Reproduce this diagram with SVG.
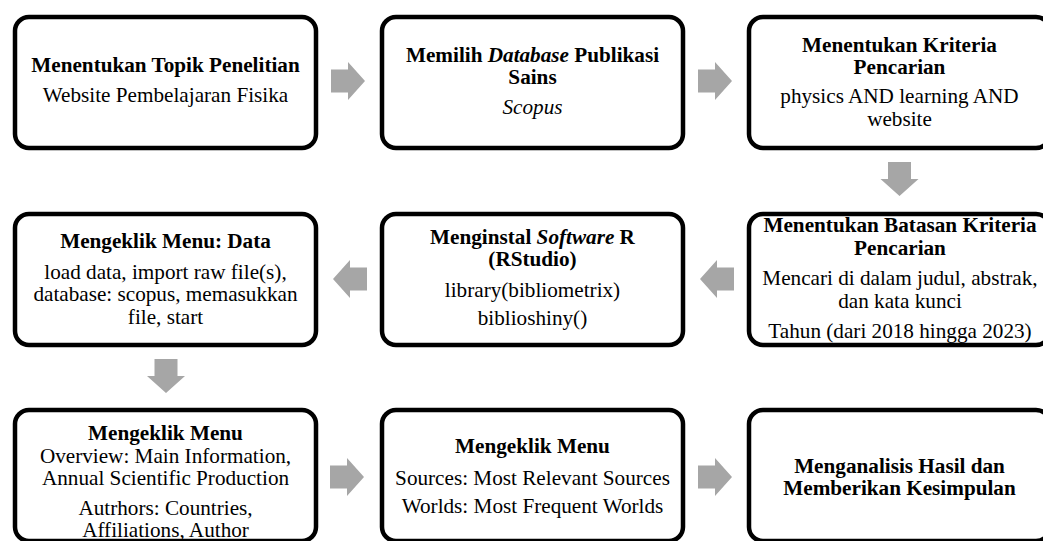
<svg xmlns="http://www.w3.org/2000/svg" width="1043" height="541" viewBox="0 0 1043 541">
<style>
.box{fill:#fff;stroke:#000;stroke-width:4.5}
.arr{fill:#a6a6a6}
text{font-family:"Liberation Serif","Times New Roman",serif;font-size:21.2px;fill:#000;text-anchor:middle}
.b{font-weight:bold}
.i{font-style:italic}
</style>
<rect width="1043" height="541" fill="#fff"/>
<g id="connectors">
<polygon class="arr" points="331,69.5 348,69.5 348,62 365,81 348,100 348,92.5 331,92.5"/>
<polygon class="arr" points="698,69.5 715,69.5 715,62 732,81 715,100 715,92.5 698,92.5"/>
<polygon class="arr" points="888,162 911,162 911,179 918.5,179 899.5,196 880.5,179 888,179"/>
<polygon class="arr" points="734,267.5 717,267.5 717,260 700,279 717,298 717,290.5 734,290.5"/>
<polygon class="arr" points="367,267.5 350,267.5 350,260 333,279 350,298 350,290.5 367,290.5"/>
<polygon class="arr" points="154.5,359 177.5,359 177.5,376 185,376 166,393 147,376 154.5,376"/>
<polygon class="arr" points="330,465.5 347,465.5 347,458 364,477 347,496 347,488.5 330,488.5"/>
<polygon class="arr" points="698,465.5 715,465.5 715,458 732,477 715,496 715,488.5 698,488.5"/>
</g>
<g id="n1">
<rect class="box" x="15" y="17" width="301" height="131" rx="14"/>
<text x="165.5" y="72" class="b">Menentukan Topik Penelitian</text>
<text x="165.5" y="102">Website Pembelajaran Fisika</text>
</g>
<g id="n2">
<rect class="box" x="382" y="17" width="301" height="131" rx="14"/>
<text x="532.5" y="62" class="b">Memilih <tspan class="i">Database</tspan> Publikasi</text>
<text x="532.5" y="84" class="b">Sains</text>
<text x="532.5" y="114" class="i">Scopus</text>
</g>
<g id="n3">
<rect class="box" x="749" y="17" width="301" height="131" rx="14"/>
<text x="899.5" y="51.5" class="b">Menentukan Kriteria</text>
<text x="899.5" y="74" class="b">Pencarian</text>
<text x="899.5" y="103">physics AND learning AND</text>
<text x="899.5" y="125.5">website</text>
</g>
<g id="n4">
<rect class="box" x="749" y="214" width="301" height="131" rx="14"/>
<text x="900" y="231.5" class="b">Menentukan Batasan Kriteria</text>
<text x="900" y="254.5" class="b">Pencarian</text>
<text x="900" y="285">Mencari di dalam judul, abstrak,</text>
<text x="900" y="307.5">dan kata kunci</text>
<text x="900" y="338">Tahun (dari 2018 hingga 2023)</text>
</g>
<g id="n5">
<rect class="box" x="382" y="214" width="301" height="131" rx="14"/>
<text x="532.5" y="244" class="b">Menginstal <tspan class="i">Software</tspan> R</text>
<text x="532.5" y="265.5" class="b">(RStudio)</text>
<text x="532.5" y="297">library(bibliometrix)</text>
<text x="532.5" y="325">biblioshiny()</text>
</g>
<g id="n6">
<rect class="box" x="15" y="214" width="301" height="131" rx="14"/>
<text x="165.5" y="248" class="b">Mengeklik Menu: Data</text>
<text x="165.5" y="279">load data, import raw file(s),</text>
<text x="165.5" y="301">database: scopus, memasukkan</text>
<text x="165.5" y="323.5">file, start</text>
</g>
<g id="n7">
<rect class="box" x="15" y="410" width="301" height="131" rx="14"/>
<text x="165.5" y="439.5" class="b">Mengeklik Menu</text>
<text x="165.5" y="463">Overview: Main Information,</text>
<text x="165.5" y="485">Annual Scientific Production</text>
<text x="165.5" y="515">Autrhors: Countries,</text>
<text x="165.5" y="537">Affiliations, Author</text>
</g>
<g id="n8">
<rect class="box" x="382" y="410" width="301" height="131" rx="14"/>
<text x="532.5" y="453" class="b">Mengeklik Menu</text>
<text x="532.5" y="485">Sources: Most Relevant Sources</text>
<text x="532.5" y="512.5">Worlds: Most Frequent Worlds</text>
</g>
<g id="n9">
<rect class="box" x="749" y="410" width="301" height="131" rx="14"/>
<text x="899.5" y="473" class="b">Menganalisis Hasil dan</text>
<text x="899.5" y="495" class="b">Memberikan Kesimpulan</text>
</g>
</svg>
